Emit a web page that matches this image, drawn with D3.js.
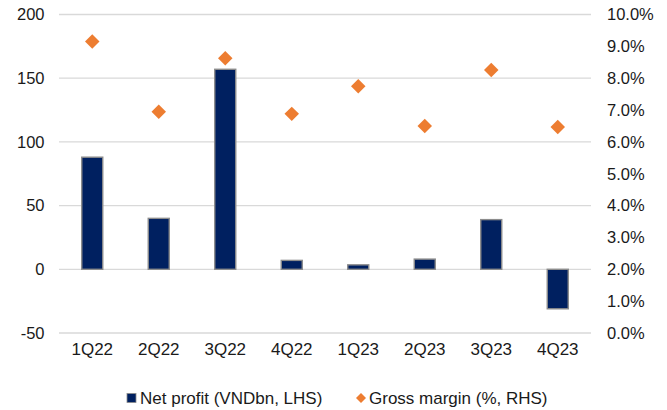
<!DOCTYPE html>
<html>
<head>
<meta charset="utf-8">
<script src="https://cdn.jsdelivr.net/npm/d3@7"></script>
<style>
  html, body { margin: 0; padding: 0; background: #fff; }
  svg { display: block; font-family: "Liberation Sans", Arial, sans-serif; }
</style>
</head>
<body>
<svg id="chart" width="667" height="410"></svg>
<script>
// Quarterly net profit (VNDbn, left axis) and gross margin (right axis)
const quarters = ["1Q22", "2Q22", "3Q22", "4Q22", "1Q23", "2Q23", "3Q23", "4Q23"];
const netProfit = [88, 40, 157, 7, 3.5, 8, 39, -31];
const grossMargin = [0.0915, 0.0695, 0.0863, 0.0688, 0.0775, 0.065, 0.0826, 0.0647];
const leftTicks = [-50, 0, 50, 100, 150, 200];
const rightTicks = [0, 0.01, 0.02, 0.03, 0.04, 0.05, 0.06, 0.07, 0.08, 0.09, 0.10];
const legendLabels = ["Net profit (VNDbn, LHS)", "Gross margin (%, RHS)"];

const barFill = "#002060";
const barStroke = "#8c8c8c";
const marker = "#ED7D31";
const gridColor = "#d9d9d9";
const textColor = "#1a1a1a";
const font = "Liberation Sans, Arial, sans-serif";

const svg = d3.select("#chart");
const plot = { left: 59, right: 591, top: 14.5, bottom: 333 };

const x = d3.scaleBand()
  .domain(quarters)
  .range([plot.left, plot.right])
  .paddingInner(0.684)
  .paddingOuter(0.342);

const yL = d3.scaleLinear().domain([-50, 200]).range([plot.bottom, plot.top]);
const yR = d3.scaleLinear().domain([0, 0.10]).range([plot.bottom, plot.top]);

// horizontal gridlines
svg.append("g")
  .selectAll("line")
  .data(leftTicks)
  .join("line")
  .attr("x1", plot.left).attr("x2", plot.right)
  .attr("y1", d => yL(d)).attr("y2", d => yL(d))
  .attr("stroke", gridColor).attr("stroke-width", 1.3);

// left axis labels (plain hyphen for negatives)
const axisL = d3.axisLeft(yL).tickValues(leftTicks).tickSize(0).tickPadding(0).tickFormat(d => String(d));
const gL = svg.append("g").attr("transform", "translate(44.5,0)").call(axisL);
gL.select(".domain").remove();
gL.selectAll("text").attr("font-size", "16.5px").attr("fill", textColor).attr("font-family", font);

// right axis labels
const axisR = d3.axisRight(yR).tickValues(rightTicks).tickSize(0).tickPadding(0).tickFormat(d3.format(".1%"));
const gR = svg.append("g").attr("transform", "translate(607,0)").call(axisR);
gR.select(".domain").remove();
gR.selectAll("text").attr("font-size", "16.5px").attr("fill", textColor).attr("font-family", font);

// category labels
const axisB = d3.axisBottom(x).tickSize(0).tickPadding(0);
const gB = svg.append("g").attr("transform", "translate(0,343)").call(axisB);
gB.select(".domain").remove();
gB.selectAll("text").attr("font-size", "17px").attr("fill", textColor).attr("font-family", font);

// net profit bars
svg.append("g")
  .selectAll("rect")
  .data(quarters.map((q, i) => ({ q, v: netProfit[i] })))
  .join("rect")
  .attr("x", d => x(d.q))
  .attr("width", x.bandwidth())
  .attr("y", d => yL(Math.max(0, d.v)))
  .attr("height", d => Math.abs(yL(d.v) - yL(0)))
  .attr("fill", barFill)
  .attr("stroke", barStroke)
  .attr("stroke-width", 1.4);

// gross margin markers
const diamond = d3.symbol().type(d3.symbolSquare).size(105);
svg.append("g")
  .selectAll("path")
  .data(quarters.map((q, i) => ({ q, v: grossMargin[i] })))
  .join("path")
  .attr("d", diamond)
  .attr("transform", d => `translate(${x(d.q) + x.bandwidth() / 2},${yR(d.v)}) rotate(45)`)
  .attr("fill", marker);

// legend
const legend = svg.append("g");
legend.append("rect")
  .attr("x", 127).attr("y", 393.5).attr("width", 9).attr("height", 9)
  .attr("fill", barFill).attr("stroke", barStroke).attr("stroke-width", 0.8);
legend.append("text")
  .attr("x", 140).attr("y", 403.5)
  .attr("font-size", "17px").attr("fill", textColor).attr("font-family", font)
  .text(legendLabels[0]);
legend.append("path")
  .attr("d", d3.symbol().type(d3.symbolSquare).size(50))
  .attr("transform", "translate(361,398) rotate(45)")
  .attr("fill", marker);
legend.append("text")
  .attr("x", 369).attr("y", 403.5)
  .attr("font-size", "17px").attr("fill", textColor).attr("font-family", font)
  .text(legendLabels[1]);
</script>
</body>
</html>
